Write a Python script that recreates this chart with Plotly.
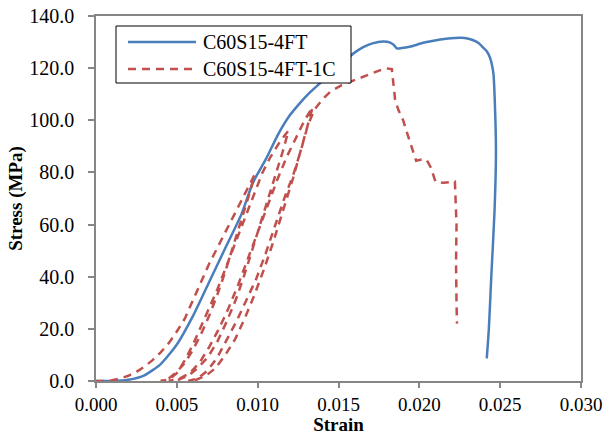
import plotly.graph_objects as go

# ---- Data ----
blue_strain = [0.0, 0.001, 0.002, 0.003, 0.004, 0.005, 0.006, 0.007, 0.008, 0.009, 0.0097,
               0.0105, 0.0113, 0.012, 0.0126, 0.0132, 0.0139, 0.0146, 0.0153, 0.0159, 0.0165,
               0.0171, 0.01776, 0.0182, 0.0184, 0.0186, 0.0189, 0.0194, 0.0203, 0.0213, 0.0222,
               0.0228, 0.0233, 0.0237, 0.0239, 0.02417, 0.02437, 0.02458, 0.02468, 0.02474,
               0.02465, 0.02445, 0.0243, 0.02417]
blue_stress = [0.0, 0.0, 0.5, 2.2, 6.5, 14.0, 25.0, 38.0, 51.0, 64.0, 76.0,
               85.0, 95.0, 102.0, 106.5, 110.5, 114.5, 118.5, 122.0, 125.5, 128.0,
               129.5, 130.2, 129.8, 129.0, 127.6, 127.7, 128.2, 129.8, 131.0, 131.6,
               131.6, 130.8, 129.5, 128.2, 126.5, 124.0, 118.0, 105.0, 88.0,
               65.0, 40.0, 20.0, 8.7]

red_strain = [
    # first loading
    0.0, 0.0005, 0.001, 0.0015, 0.002, 0.0025, 0.003, 0.0035, 0.004, 0.0045, 0.005, 0.0055,
    0.006, 0.0065, 0.007, 0.0075, 0.008, 0.0085, 0.009, 0.0095, 0.0098,
    # unloading 1
    0.0095, 0.009, 0.0085, 0.008, 0.0075, 0.007, 0.0065, 0.006, 0.0055, 0.005, 0.0045, 0.0040,
    # reloading 1
    0.0045, 0.005, 0.0055, 0.006, 0.0065, 0.007, 0.0075, 0.008, 0.0085, 0.009, 0.0095, 0.01,
    0.0103, 0.0108, 0.0114, 0.0119,
    # unloading 2
    0.0116, 0.0111, 0.0105, 0.0099, 0.0093, 0.0087, 0.0081, 0.0075, 0.0069, 0.0063, 0.0057,
    0.0051, 0.0045,
    # reloading 2
    0.0052, 0.0058, 0.0064, 0.007, 0.0076, 0.0082, 0.0088, 0.0094, 0.01, 0.0106, 0.0112,
    0.0118, 0.0124, 0.0129, 0.0134,
    # unloading 3
    0.0131, 0.0127, 0.0122, 0.0116, 0.011, 0.0104, 0.0098, 0.0092, 0.0086, 0.008, 0.0074,
    0.0068, 0.0062, 0.0057,
    # reloading 3 and envelope
    0.0063, 0.0069, 0.0075, 0.0081, 0.0087, 0.0093, 0.0099, 0.0105, 0.0111, 0.0117, 0.0122,
    0.0127, 0.0131, 0.0135, 0.014, 0.0145, 0.0152, 0.016, 0.0168, 0.0175, 0.0179, 0.0183,
    # softening
    0.01838, 0.0185, 0.0187, 0.019, 0.0193, 0.0196, 0.0198, 0.0202, 0.02045, 0.0207, 0.021,
    0.0215, 0.0222, 0.0223, 0.02227, 0.0223, 0.02233]
red_stress = [
    0.0, 0.0, 0.3, 1.0, 2.0, 3.5, 5.5, 8.0, 11.0, 14.5, 19.0, 24.0,
    31.0, 38.0, 45.0, 51.0, 57.0, 63.0, 69.0, 75.0, 79.0,
    72.0, 62.0, 52.0, 42.0, 33.0, 25.0, 18.0, 12.0, 7.0, 3.5, 1.0, 0.0,
    0.5, 3.0, 8.0, 14.0, 21.0, 28.0, 35.0, 43.0, 51.0, 59.0, 67.0, 75.0,
    80.0, 86.0, 92.0, 96.0,
    89.0, 79.0, 67.0, 55.0, 43.0, 32.0, 23.0, 15.0, 9.0, 5.0, 2.0,
    0.5, 0.0,
    1.0, 3.0, 7.0, 13.0, 20.0, 28.0, 37.0, 47.0, 57.0, 67.0, 77.0,
    86.0, 94.0, 100.0, 105.0,
    98.0, 89.0, 78.0, 66.0, 54.0, 43.0, 33.0, 24.0, 16.0, 10.0, 5.0,
    2.0, 0.5, 0.0,
    1.0, 4.0, 9.0, 16.0, 23.0, 31.0, 39.0, 49.0, 60.0, 71.0, 79.0,
    89.0, 98.0, 104.0, 108.0, 111.0, 113.5, 115.5, 117.5, 119.0, 120.0, 119.6,
    114.0, 108.0, 104.0, 100.0, 94.0, 88.0, 84.5, 85.0, 84.8, 82.0, 76.5,
    76.0, 76.5, 60.0, 45.0, 30.0, 22.0]

series_names = ["C60S15-4FT", "C60S15-4FT-1C"]
x_ticks = [0.0, 0.005, 0.010, 0.015, 0.020, 0.025, 0.030]
y_ticks = [0, 20, 40, 60, 80, 100, 120, 140]

BLUE = "#4A7EBB"
RED = "#C0504D"
GRID = "#868686"
FONT = "Liberation Serif"

fig = go.Figure()
fig.add_trace(go.Scatter(x=blue_strain, y=blue_stress, mode="lines", name=series_names[0],
                         line=dict(color=BLUE, width=2.5, shape="spline", smoothing=0.6),
                         showlegend=False))
fig.add_trace(go.Scatter(x=red_strain, y=red_stress, mode="lines", name=series_names[1],
                         line=dict(color=RED, width=2.5, dash="8px,6px"),
                         showlegend=False))

W, H = 605, 435
PL, PR, PT, PB = 96, 581, 16, 381          # plot area in page pixels
L, T, R, B = PL, PT, W - PR, H - PB
pw, ph = PR - PL, PB - PT
def px(x): return (x - PL) / pw
def py(y): return (PB - y) / ph

shapes = [
    dict(type="rect", xref="paper", yref="paper", x0=px(116), x1=px(351), y0=py(83), y1=py(26),
         line=dict(color="black", width=1), fillcolor="white", layer="above"),
    dict(type="line", xref="paper", yref="paper", x0=px(128), x1=px(196), y0=py(42), y1=py(42),
         line=dict(color=BLUE, width=2.5), layer="above"),
    dict(type="line", xref="paper", yref="paper", x0=px(128), x1=px(196), y0=py(69), y1=py(69),
         line=dict(color=RED, width=2.5, dash="8px,6px"), layer="above"),
]
annotations = [
    dict(xref="paper", yref="paper", x=px(201), y=py(42), text=series_names[0], showarrow=False,
         xanchor="left", yanchor="middle", font=dict(family=FONT, size=20, color="black")),
    dict(xref="paper", yref="paper", x=px(201), y=py(69), text=series_names[1], showarrow=False,
         xanchor="left", yanchor="middle", font=dict(family=FONT, size=20, color="black")),
]

fig.update_layout(
    width=W, height=H,
    margin=dict(l=L, r=R, t=T, b=B),
    paper_bgcolor="white", plot_bgcolor="white",
    font=dict(family=FONT, size=20, color="black"),
    shapes=shapes, annotations=annotations,
    showlegend=False,
)
fig.update_xaxes(range=[0, 0.030], tickvals=x_ticks, tickformat=".3f", automargin=False,
                 showgrid=False, zeroline=False, showline=True, linecolor=GRID, linewidth=1.5,
                 mirror=True, ticks="outside", ticklen=5, tickcolor=GRID, tickwidth=1.5,
                 tickfont=dict(size=19), ticklabelstandoff=0,
                 title=dict(text="<b>Strain</b>", standoff=5, font=dict(size=19)))
fig.update_yaxes(range=[0, 140], tickvals=y_ticks, tickformat=".1f", automargin=False,
                 showgrid=False, zeroline=False, showline=True, linecolor=GRID, linewidth=1.5,
                 mirror=True, ticks="outside", ticklen=6, tickcolor=GRID, tickwidth=1.5,
                 tickfont=dict(size=20), ticklabelstandoff=10,
                 title=dict(text="<b>Stress (MPa)</b>", standoff=2, font=dict(size=19)))

fig.write_html("out.html", config={"displayModeBar": False},
               post_script="document.body.style.margin='0';document.body.style.overflow='hidden';")
